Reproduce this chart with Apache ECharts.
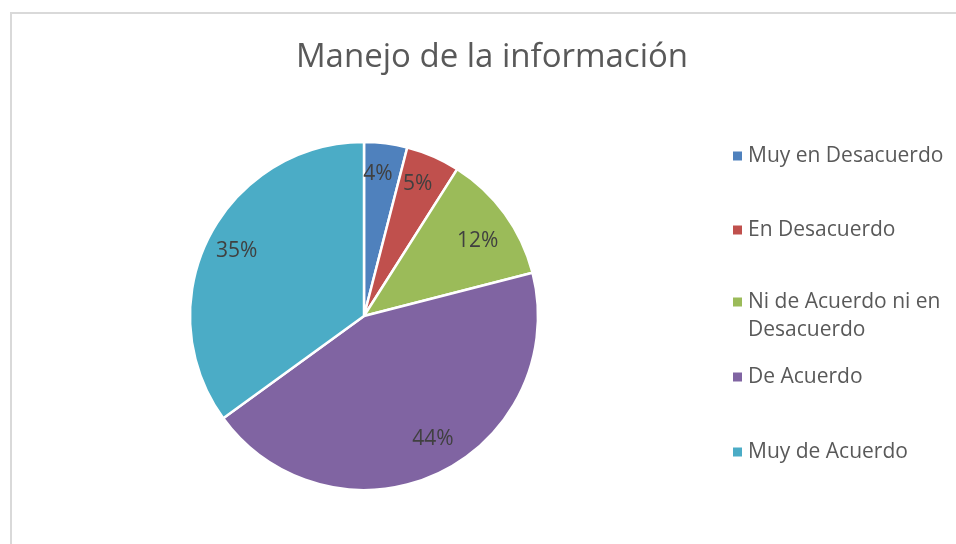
<!DOCTYPE html>
<html>
<head>
<meta charset="utf-8">
<script src="https://cdn.jsdelivr.net/npm/echarts@6/dist/echarts.min.js"></script>
<style>
  html, body { margin: 0; padding: 0; background: #fff; }
  #chart { width: 956px; height: 544px; }
</style>
</head>
<body>
<div id="chart"></div>
<script>
// datos
const categories = ['Muy en Desacuerdo', 'En Desacuerdo', 'Ni de Acuerdo ni en Desacuerdo', 'De Acuerdo', 'Muy de Acuerdo'];
const values = [4, 5, 12, 44, 35];
const colors = ['#4F81BD', '#C0504D', '#9BBB59', '#8064A2', '#4BACC6'];
// la línea vacía inicial deja la primera línea del texto a la altura del marcador
const legendLabels = ['Muy en Desacuerdo', 'En Desacuerdo', '\nNi de Acuerdo ni en\nDesacuerdo', 'De Acuerdo', 'Muy de Acuerdo'];
const legendTops = [156, 230, 302, 377, 452];
// pequeños ajustes de las etiquetas (Excel usa "ajuste óptimo")
const labelNudge = [[-4, 0], [-3, -1], [-2, 9], [8, -6], [0, 0]];

const FONT = '"Open Sans", sans-serif';
const LINE_H = 28;
const chart = echarts.init(document.getElementById('chart'));

const pieData = categories.map((name, i) => ({
  name,
  value: values[i],
  itemStyle: { color: colors[i] }
}));

// una leyenda por elemento, para colocar cada una como en el original
const legends = categories.map((name, i) => {
  const lines = legendLabels[i].split('\n').length;
  // la caja se alinea por arriba: restar padding (5) y media altura del texto
  const half = LINE_H * lines / 2;
  return {
    data: [name],
    orient: 'vertical',
    left: 726,
    top: legendTops[i] - 5 - half,
    itemWidth: 11,
    itemHeight: 11,
    icon: 'rect',
    selectedMode: false,
    formatter: () => legendLabels[i],
    textStyle: {
      fontFamily: FONT,
      fontSize: 21,
      color: '#595959',
      lineHeight: LINE_H,
      padding: [0, 0, 0, 0]
    }
  };
});

chart.setOption({
  animation: false,
  backgroundColor: '#fff',
  title: {
    text: 'Manejo de la información',
    left: 487,
    top: 36,
    textAlign: 'center',
    textStyle: {
      fontFamily: FONT,
      fontSize: 33,
      fontWeight: 'normal',
      color: '#595959'
    }
  },
  graphic: [{
    type: 'rect',
    shape: { x: 11, y: 13, width: 1200, height: 800 },
    style: { fill: 'none', stroke: '#d9d9d9', lineWidth: 2 },
    silent: true,
    z: -10
  }],
  legend: legends,
  series: [
    {
      type: 'pie',
      center: [364, 316],
      radius: [0, 174],
      startAngle: 90,
      clockwise: true,
      silent: true,
      label: { show: false },
      labelLine: { show: false },
      itemStyle: { borderColor: '#fff', borderWidth: 2.5 },
      data: pieData
    },
    {
      // serie invisible solo para colocar las etiquetas de porcentaje
      type: 'pie',
      center: [364, 316],
      radius: [106, 174],
      startAngle: 90,
      clockwise: true,
      silent: true,
      itemStyle: { color: 'rgba(0,0,0,0)' },
      label: {
        show: true,
        position: 'inside',
        formatter: '{c}%',
        fontFamily: FONT,
        fontSize: 21,
        color: '#404040'
      },
      labelLine: { show: false },
      data: categories.map((name, i) => ({
        name,
        value: values[i],
        label: { offset: labelNudge[i] }
      }))
    }
  ]
});
</script>
</body>
</html>
